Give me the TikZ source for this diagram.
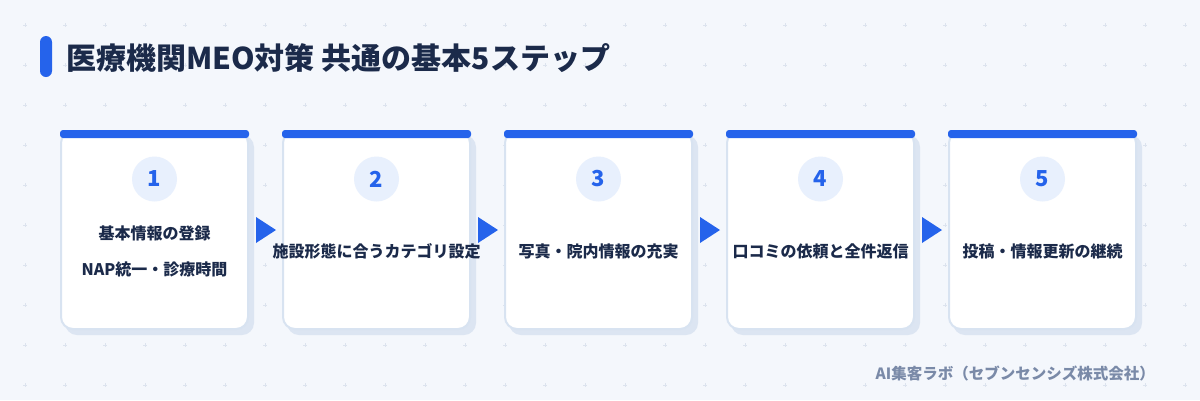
\documentclass[tikz,border=0pt]{standalone}
\usepackage{fontspec}
\setmainfont{Noto Sans CJK JP}
\usetikzlibrary{positioning,calc}
\definecolor{bgblue}{HTML}{F4F7FC}
\definecolor{mainblue}{HTML}{2563EB}
\definecolor{navy}{HTML}{1B2A4A}
\definecolor{cardline}{HTML}{D8E3F1}
\definecolor{shadowc}{HTML}{DCE5F2}
\definecolor{circlebg}{HTML}{E8F0FD}
\definecolor{gridc}{HTML}{DCE3EE}
\definecolor{footc}{HTML}{7A8AA8}

\begin{document}
\begin{tikzpicture}
  [x=1pt,y=-1pt,
   cardN/.style={rectangle,rounded corners=12pt,draw=cardline,line width=2pt,
     fill=white,minimum width=187pt,minimum height=198pt},
   shadowN/.style={rectangle,rounded corners=12pt,fill=shadowc,
     minimum width=189pt,minimum height=200pt},
   barN/.style={rectangle,rounded corners=3pt,fill=mainblue,
     minimum width=189pt,minimum height=8pt,inner sep=0pt},
   numN/.style={circle,fill=circlebg,minimum size=45pt,inner sep=0pt,
     text=mainblue,font=\bfseries\fontsize{22}{24}\selectfont},
   stepT/.style={text=navy,align=center,inner sep=0pt,
     font=\bfseries\fontsize{16}{36}\selectfont},
   arrowT/.style={fill=mainblue}]

  % background and dot grid
  \fill[bgblue] (0,0) rectangle (1200,400);
  \useasboundingbox (0,0) rectangle (1200,400);
  \foreach \gx in {0,...,29}
    \foreach \gy in {0,...,9}
      \draw[gridc,line width=0.7pt] ($(25+40*\gx,25+40*\gy)+(-2,0)$) -- +(4,0)
        ($(25+40*\gx,25+40*\gy)+(0,-2)$) -- +(0,4);

  % title
  \node[rectangle,rounded corners=6pt,fill=mainblue,minimum width=12pt,
    minimum height=41pt,inner sep=0pt] (tbar) at (46,56.5) {};
  \node[anchor=west,text=navy,inner sep=0pt,
    font=\bfseries\fontsize{30}{32}\selectfont] (title) at (66,58)
    {医療機関MEO対策 共通の基本5ステップ};

  % cards
  \foreach \i/\cx/\txt in {1/154.5/{基本情報の登録\\NAP統一・診療時間},
      2/376.5/{施設形態に合うカテゴリ設定},
      3/598.5/{写真・院内情報の充実},
      4/820.5/{口コミの依頼と全件返信},
      5/1042.5/{投稿・情報更新の継続}} {
    \node[shadowN] (sh\i) at (\cx+5,235) {};
    \node[cardN] (card\i) at (\cx,230) {};
    \node[barN] (bar\i) at (\cx,134) {};
    \node[numN] (num\i) at (\cx,179) {\i};
    \node[stepT] (txt\i) at (\cx,251) {\txt};
  }

  % arrows between cards
  \foreach \i in {1,...,4}
    \fill[arrowT] ($(card\i.east)+(7,-13)$) -- ++(20,13) -- ++(-20,13) -- cycle;

  % footer
  \node[anchor=east,text=footc,inner sep=0pt,
    font=\bfseries\fontsize{15.5}{17}\selectfont] (foot) at (1155,373)
    {AI集客ラボ（セブンセンシズ株式会社）};
\end{tikzpicture}
\end{document}
